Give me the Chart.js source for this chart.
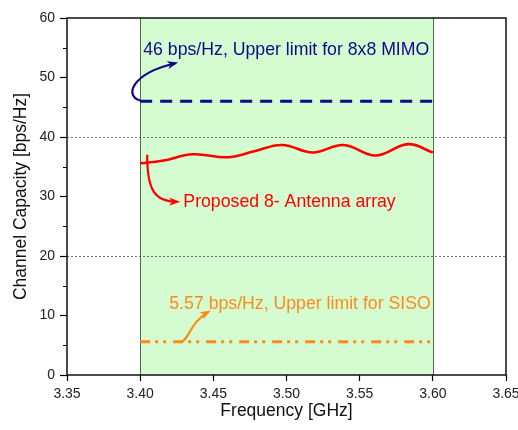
<!DOCTYPE html>
<html>
<head>
<meta charset="UTF-8">
<title>Channel Capacity</title>
<script src="https://cdn.jsdelivr.net/npm/chart.js@4.4.0/dist/chart.umd.min.js"></script>
<style>
  html, body { margin: 0; padding: 0; background: #fff; overflow: hidden; }
  #wrap { width: 540px; height: 430px; }
</style>
</head>
<body>
<div id="wrap"><canvas id="capChart" width="540" height="430"></canvas></div>
<script>
// data
const freqTicks = [3.35, 3.40, 3.45, 3.50, 3.55, 3.60, 3.65];
const capTicks = [0, 10, 20, 30, 40, 50, 60];
const minorCapTicks = [5, 15, 25, 35, 45, 55];
const gridCaps = [20, 40];
const band = [3.40, 3.60];

const proposedFreq = [3.400, 3.415, 3.436, 3.460, 3.478, 3.497, 3.518, 3.539, 3.561, 3.583, 3.600];
const proposedCap  = [35.6, 36.0, 37.1, 36.6, 37.6, 38.65, 37.4, 38.65, 36.9, 38.8, 37.4];
const mimoFreq = [3.40, 3.60];
const mimoCap  = [46, 46];
const sisoFreq = [3.40, 3.60];
const sisoCap  = [5.57, 5.57];

const BLUE = '#0b0b8a';
const RED = '#ff0000';
const ORANGE = '#ff8a1c';

// annotations, in data units (freq, capacity)
const notes = [
  { text: '46 bps/Hz, Upper limit for 8x8 MIMO', color: BLUE, at: [3.4021, 54.6],
    arrow: [[3.4007, 46.1], [3.3890, 46.7], [3.3930, 50.6], [3.4240, 52.4]] },
  { text: 'Proposed 8- Antenna array', color: RED, at: [3.4295, 29.1],
    arrow: [[3.4048, 37.0], [3.4048, 31.6], [3.4085, 29.1], [3.4253, 29.1]] },
  { text: '5.57 bps/Hz, Upper limit for SISO', color: ORANGE, at: [3.4199, 11.9],
    arrow: [[3.4274, 5.57], [3.4330, 5.57], [3.4340, 8.9], [3.4466, 10.6]] }
];

function pts(xs, ys) { return xs.map((x, i) => ({ x: x, y: ys[i] })); }

const bandPlugin = {
  id: 'band',
  beforeDraw(chart) {
    const { ctx, chartArea: a, scales: { x } } = chart;
    const x0 = x.getPixelForValue(band[0]);
    const x1 = x.getPixelForValue(band[1]);
    ctx.save();
    ctx.fillStyle = '#d5fbd0';
    ctx.fillRect(x0, a.top, x1 - x0, a.bottom - a.top);
    ctx.strokeStyle = '#4d6e4d';
    ctx.lineWidth = 1;
    ctx.beginPath();
    ctx.moveTo(Math.round(x0) + 0.5, a.top); ctx.lineTo(Math.round(x0) + 0.5, a.bottom);
    ctx.moveTo(Math.round(x1) + 0.5, a.top); ctx.lineTo(Math.round(x1) + 0.5, a.bottom);
    ctx.stroke();
    ctx.restore();
  }
};

const framePlugin = {
  id: 'frame',
  afterDatasetsDraw(chart) {
    const { ctx, chartArea: a, scales: { x, y } } = chart;
    ctx.save();
    // notes + curved arrows
    notes.forEach(n => {
      const p = n.arrow.map(q => [x.getPixelForValue(q[0]), y.getPixelForValue(q[1])]);
      ctx.strokeStyle = n.color;
      ctx.fillStyle = n.color;
      ctx.lineWidth = 2.2;
      ctx.beginPath();
      ctx.moveTo(p[0][0], p[0][1]);
      ctx.bezierCurveTo(p[1][0], p[1][1], p[2][0], p[2][1], p[3][0], p[3][1]);
      ctx.stroke();
      const ang = Math.atan2(p[3][1] - p[2][1], p[3][0] - p[2][0]);
      ctx.beginPath();
      ctx.moveTo(p[3][0] + 3 * Math.cos(ang), p[3][1] + 3 * Math.sin(ang));
      ctx.lineTo(p[3][0] - 8 * Math.cos(ang) - 4 * Math.sin(ang), p[3][1] - 8 * Math.sin(ang) + 4 * Math.cos(ang));
      ctx.lineTo(p[3][0] - 5 * Math.cos(ang), p[3][1] - 5 * Math.sin(ang));
      ctx.lineTo(p[3][0] - 8 * Math.cos(ang) + 4 * Math.sin(ang), p[3][1] - 8 * Math.sin(ang) - 4 * Math.cos(ang));
      ctx.closePath();
      ctx.fill();
      ctx.font = '17.7px "Liberation Sans", Arial, sans-serif';
      ctx.textBaseline = 'middle';
      ctx.textAlign = 'left';
      ctx.fillText(n.text, x.getPixelForValue(n.at[0]), y.getPixelForValue(n.at[1]));
    });
    // minor ticks on y
    ctx.strokeStyle = '#000';
    ctx.lineWidth = 1.2;
    ctx.beginPath();
    minorCapTicks.forEach(v => {
      const py = Math.round(y.getPixelForValue(v)) + 0.5;
      ctx.moveTo(a.left - 4, py); ctx.lineTo(a.left, py);
    });
    ctx.stroke();
    // box
    ctx.strokeStyle = '#111';
    ctx.lineWidth = 1.5;
    ctx.strokeRect(a.left, a.top, a.right - a.left, a.bottom - a.top);
    ctx.restore();
  }
};

new Chart(document.getElementById('capChart').getContext('2d'), {
  type: 'line',
  data: {
    datasets: [
      { label: 'Proposed 8- Antenna array', data: pts(proposedFreq, proposedCap),
        borderColor: RED, borderWidth: 2.6, pointRadius: 0, tension: 0.4, fill: false },
      { label: '8x8 MIMO limit', data: pts(mimoFreq, mimoCap),
        borderColor: BLUE, borderWidth: 3, borderDash: [12, 8], pointRadius: 0, fill: false },
      { label: 'SISO limit', data: pts(sisoFreq, sisoCap),
        borderColor: ORANGE, borderWidth: 3, borderDash: [10, 5, 3, 5, 3, 7], pointRadius: 0, fill: false }
    ]
  },
  options: {
    responsive: false,
    animation: false,
    layout: { padding: { top: 18, right: 34, left: 0, bottom: 0 } },
    plugins: { legend: { display: false }, tooltip: { enabled: false } },
    scales: {
      x: {
        type: 'linear', min: 3.35, max: 3.65,
        afterBuildTicks: s => { s.ticks = freqTicks.map(v => ({ value: v })); },
        afterFit: s => { s.height = 55; },
        ticks: { color: '#222', font: { family: '"Liberation Sans", Arial', size: 14 },
                 padding: 5, maxRotation: 0, callback: v => v.toFixed(2) },
        grid: { drawOnChartArea: false, tickLength: 6, tickColor: '#000', tickWidth: 1.2 },
        border: { display: false },
        title: { display: true, text: 'Frequency [GHz]', color: '#111',
                 font: { family: '"Liberation Sans", Arial', size: 17.5 }, padding: { top: 0, bottom: 8 } }
      },
      y: {
        min: 0, max: 60,
        afterBuildTicks: s => { s.ticks = capTicks.map(v => ({ value: v })); },
        afterFit: s => { s.width = 67; },
        ticks: { color: '#222', font: { family: '"Liberation Sans", Arial', size: 14 }, padding: 5 },
        grid: { color: c => (c.tick && gridCaps.includes(c.tick.value)) ? '#555' : 'rgba(0,0,0,0)',
                lineWidth: 0.8, tickLength: 7, tickColor: '#000', tickWidth: 1.2 },
        border: { display: false, dash: [2, 2] },
        title: { display: true, text: 'Channel Capacity [bps/Hz]', color: '#111',
                 font: { family: '"Liberation Sans", Arial', size: 17.5 }, padding: { top: 11, bottom: 0 } }
      }
    }
  },
  plugins: [bandPlugin, framePlugin]
});
</script>
</body>
</html>
